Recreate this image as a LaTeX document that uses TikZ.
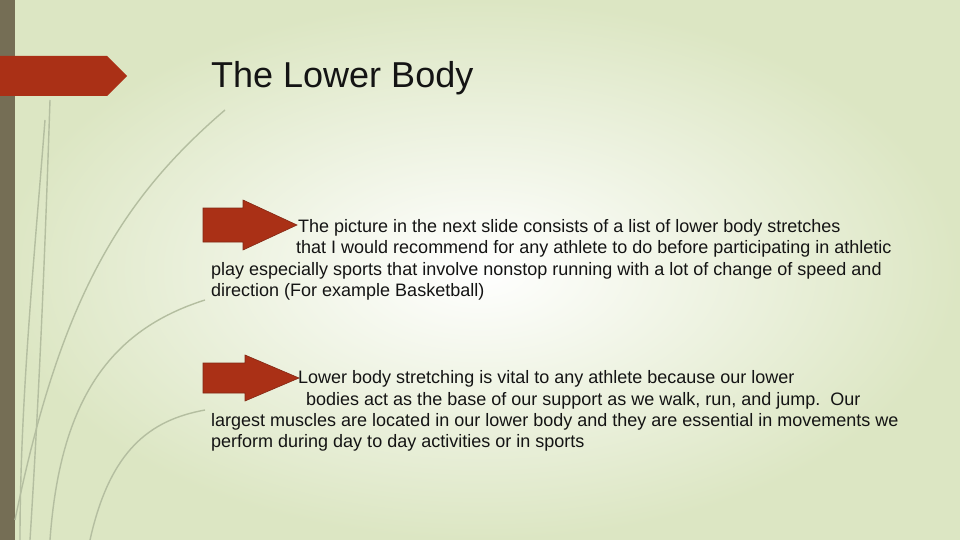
\documentclass[tikz,border=0pt]{standalone}
\usepackage{fontspec}
\setmainfont{Liberation Sans}
\definecolor{bgg}{RGB}{220,230,195}
\definecolor{barc}{RGB}{117,110,85}
\definecolor{redc}{RGB}{170,48,22}
\definecolor{redd}{RGB}{130,40,20}
\definecolor{curvec}{RGB}{180,190,160}
\definecolor{txt}{RGB}{20,20,20}
\begin{document}
\begin{tikzpicture}[x=1pt,y=-1pt,
  redarrow/.style={fill=redc,draw=redd,line width=0.6pt},
  curve/.style={draw=curvec,line width=1.4pt},
  body/.style={anchor=base west,inner sep=0pt,font=\fontsize{18}{21}\selectfont,text=txt}]
\useasboundingbox (0,0) rectangle (960,540);
\shade[inner color=white,outer color=bgg] (0,0) rectangle (960,540);
\fill[barc] (0,0) rectangle (15,540);
% curves
\draw[curve] (15,520) .. controls (60,300) and (120,200) .. (225,110) coordinate (c1);
\draw[curve] (50,540) .. controls (60,400) and (110,330) .. (205,300) coordinate (c2);
\draw[curve] (30,540) .. controls (40,380) and (45,250) .. (50,100) coordinate (c3);
\draw[curve] (20,540) .. controls (20,400) and (35,250) .. (45,120) coordinate (c4);
\draw[curve] (90,540) .. controls (110,450) and (150,420) .. (205,410) coordinate (c5);
% title banner
\fill[redc] (0,56) -- (107,56) -- (127,76) -- (107,96) -- (0,96) -- cycle;
\node[anchor=base west,inner sep=0pt,font=\fontsize{36}{40}\selectfont,text=txt] (title) at (211,88) {The Lower Body};
% arrows
\draw[redarrow] (203,208) -- (243,208) -- (243,200) -- (297,225) -- (243,250) -- (243,242) -- (203,242) -- cycle;
\draw[redarrow] (203,363) -- (245,363) -- (245,355) -- (299,378) -- (245,401) -- (245,393) -- (203,393) -- cycle;
\node[body] (a1) at (298,232) {The picture in the next slide consists of a list of lower body stretches};
\node[body] (a2) at (296,253) {that I would recommend for any athlete to do before participating in athletic};
\node[body] (a3) at (211,275) {play especially sports that involve nonstop running with a lot of change of speed and};
\node[body] (a4) at (211,296) {direction (For example Basketball)};
\node[body] (b1) at (298,383) {Lower body stretching is vital to any athlete because our lower};
\node[body] (b2) at (306,405) {bodies act as the base of our support as we walk, run, and jump.\ \ Our};
\node[body] (b3) at (211,426) {largest muscles are located in our lower body and they are essential in movements we};
\node[body] (b4) at (211,447) {perform during day to day activities or in sports};
\end{tikzpicture}
\end{document}
